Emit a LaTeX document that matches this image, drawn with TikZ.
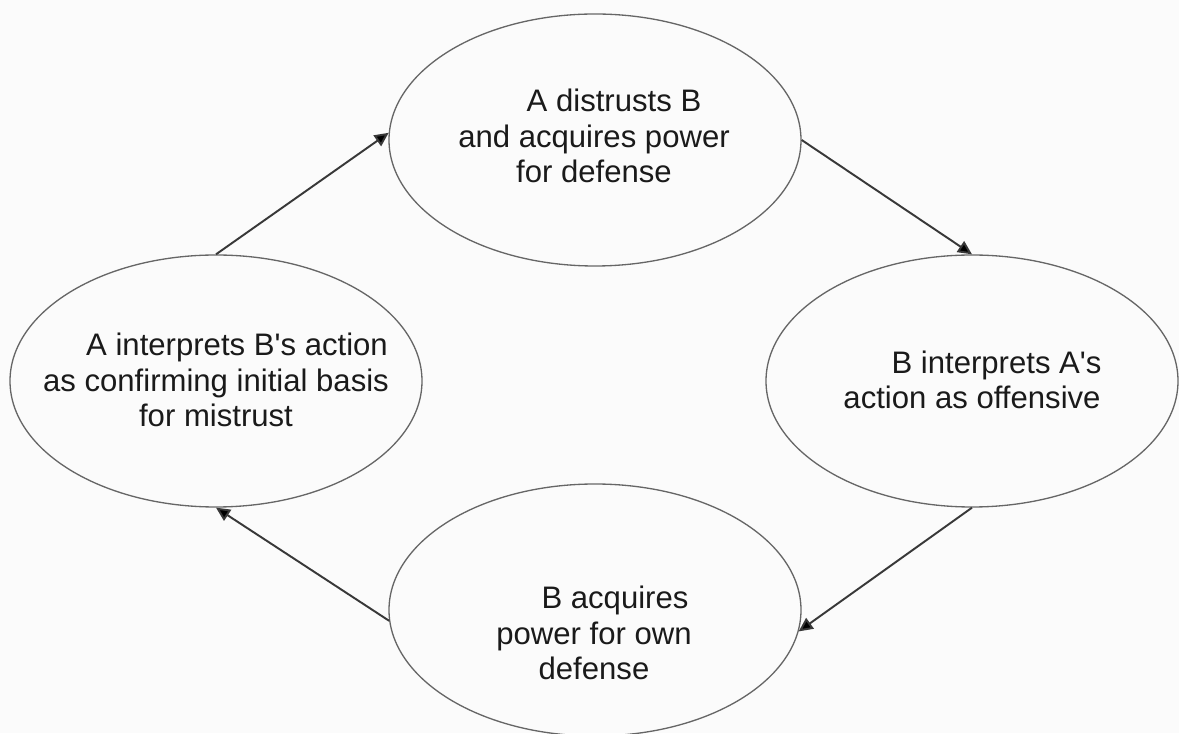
\documentclass[tikz,border=0pt]{standalone}
\usepackage{fontspec}
\setmainfont{Liberation Sans}
\usetikzlibrary{arrows.meta, shapes.geometric}
\definecolor{paper}{HTML}{FBFBFB}
\definecolor{rim}{HTML}{666666}
\definecolor{ink}{HTML}{1A1A1A}
\definecolor{shaft}{HTML}{383838}

\begin{document}
\begin{tikzpicture} \tikzset{>={Triangle[width=2.6mm,length=2.8mm,fill=black]}}
\tikzset{bubble/.style={ellipse, draw=rim, line width=0.75pt, minimum width=8.24cm, minimum height=5.04cm, inner sep=0pt},
  words/.style={align=center, text=ink, inner sep=0pt, font=\fontsize{17.7}{20.2}\selectfont}}
\useasboundingbox [fill=paper] (0,0) rectangle (23.58,14.66);
% the four stages of the spiral
\node at (11.9,11.86) [bubble] (distrust) {};
\node at (19.44,7.04) [bubble] (offense) {};
\node at (11.9,2.46) [bubble] (acquire) {};
\node at (4.32,7.04) [bubble] (confirm) {};
\node at (11.88,11.94) [words] (distrusttext) {\hspace*{0.8cm}A distrusts B\\and acquires power\\for defense};
\node at (19.44,7.06) [words] (offensetext) {\hspace*{0.98cm}B interprets A\textquotesingle s\\action as offensive};
\node at (11.88,2.0) [words] (acquiretext) {\hspace*{0.84cm}B acquires\\power for own\\defense};
\node at (4.32,7.06) [words] (confirmtext) {\hspace*{0.84cm}A interprets B\textquotesingle s action\\as confirming initial basis\\for mistrust};
% arrows round the loop
\draw [->, shaft, line width=1.1pt] (confirm.north) -- (distrust.178);
\draw [->, shaft, line width=1.1pt] (distrust.east) -- (offense.north);
\draw [->, shaft, line width=1.1pt] (offense.south) -- (acquire.-6);
\draw [->, shaft, line width=1.1pt] (acquire.183) -- (confirm.south);
\end{tikzpicture}
\end{document}
